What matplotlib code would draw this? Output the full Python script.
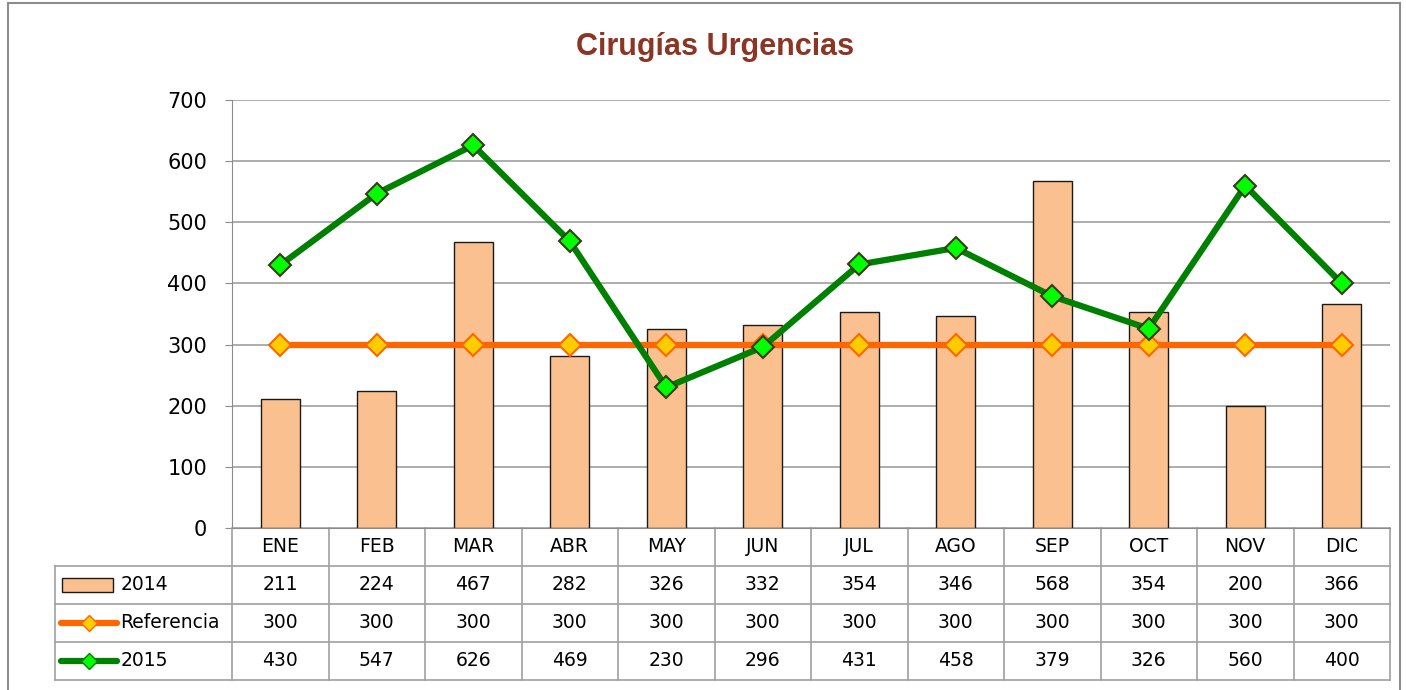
import matplotlib.pyplot as plt
from matplotlib.patches import Rectangle
from matplotlib.lines import Line2D
from matplotlib.transforms import blended_transform_factory

months = ["ENE", "FEB", "MAR", "ABR", "MAY", "JUN", "JUL", "AGO", "SEP", "OCT", "NOV", "DIC"]
v2014 = [211, 224, 467, 282, 326, 332, 354, 346, 568, 354, 200, 366]
referencia = [300] * 12
v2015 = [430, 547, 626, 469, 230, 296, 431, 458, 379, 326, 560, 400]
row_names = ["2014", "Referencia", "2015"]

W, H = 1406, 690
fig = plt.figure(figsize=(W / 100, H / 100), dpi=100)
plt.rcParams['font.family'] = ['DejaVu Sans']

# marco exterior del grafico
fig.patches.append(Rectangle((8 / W, -0.01), (1400 - 8) / W, 1 - 3 / H + 0.01,
                             transform=fig.transFigure, fill=False,
                             edgecolor='#8c8c8c', lw=1.5))

x0, x1, ytop, ybot = 232, 1390, 100, 528
ax = fig.add_axes([x0 / W, 1 - ybot / H, (x1 - x0) / W, (ybot - ytop) / H])

x = list(range(len(months)))
ax.bar(x, v2014, width=0.4, color='#FAC090', edgecolor='#1a1a1a', lw=1, zorder=2)
ax.plot(x, referencia, color='#FF6600', lw=4.5, marker='D', ms=11,
        mfc='#FFCC00', mec='#FF6600', mew=1.5, zorder=3)
ax.plot(x, v2015, color='#008000', lw=4.5, marker='D', ms=11,
        mfc='#00FF00', mec='#3a3a1a', mew=1.5, zorder=4)

ax.set_xlim(-0.5, 11.5)
ax.set_ylim(0, 700)
ax.set_yticks(range(0, 701, 100))
ax.tick_params(axis='y', labelsize=15, length=5, color='#8c8c8c', pad=13)
ax.set_xticks([])
ax.grid(axis='y', color='#a0a0a0', lw=1.2, zorder=0)
ax.set_axisbelow(True)
for s in ['top', 'right']:
    ax.spines[s].set_visible(False)
ax.spines['left'].set_color('#8c8c8c')
ax.spines['bottom'].set_color('#8c8c8c')

fig.text(715 / W, 1 - 47 / H, "Cirugías Urgencias", ha='center', va='center',
         fontsize=22, fontweight='bold', color='#8B3525', fontstretch='condensed',
         family=['Liberation Sans Narrow', 'Liberation Sans'])

# tabla de datos debajo del grafico
tr = blended_transform_factory(ax.transData, ax.transAxes)
rh = 38 / (ybot - ytop)
left = -0.5 - (x0 - 55) / ((x1 - x0) / 12)
lc = dict(color='#a0a0a0', lw=1.2, transform=tr, clip_on=False)

for i in range(4):
    y = -rh * (i + 1)
    ax.add_line(Line2D([left, 11.5], [y, y], **lc))
ax.add_line(Line2D([left, left], [-rh, -4 * rh], **lc))
for k in range(13):
    ax.add_line(Line2D([k - 0.5, k - 0.5], [0, -4 * rh], **lc))

for j, m in enumerate(months):
    ax.text(j, -0.5 * rh, m, transform=tr, ha='center', va='center', fontsize=13.5)

rows = [v2014, referencia, v2015]
for i, vals in enumerate(rows):
    yc = -rh * (i + 1.5)
    for j, v in enumerate(vals):
        ax.text(j, yc, str(v), transform=tr, ha='center', va='center', fontsize=13.5)
    ax.text(left + 0.68, yc, row_names[i], transform=tr, ha='left', va='center', fontsize=13.5)

# claves de leyenda
pxu = 12 / (x1 - x0)
ax.add_patch(Rectangle((left + 7 * pxu, -rh * 1.5 - 7 / (ybot - ytop)), 51 * pxu, 14 / (ybot - ytop),
                       transform=tr, facecolor='#FAC090', edgecolor='#1a1a1a', lw=1, clip_on=False))
for i, (c, fc, ec) in enumerate([('#FF6600', '#FFCC00', '#FF6600'), ('#008000', '#00FF00', '#008000')]):
    yc = -rh * (i + 2.5)
    ax.add_line(Line2D([left + 6 * pxu, left + 62 * pxu], [yc, yc], color=c, lw=4.5,
                       solid_capstyle='round', transform=tr, clip_on=False))
    ax.add_line(Line2D([left + 34 * pxu], [yc], marker='D', ms=8, mfc=fc, mec=ec, mew=1,
                       transform=tr, clip_on=False))

fig.savefig("out.png", dpi=100)
